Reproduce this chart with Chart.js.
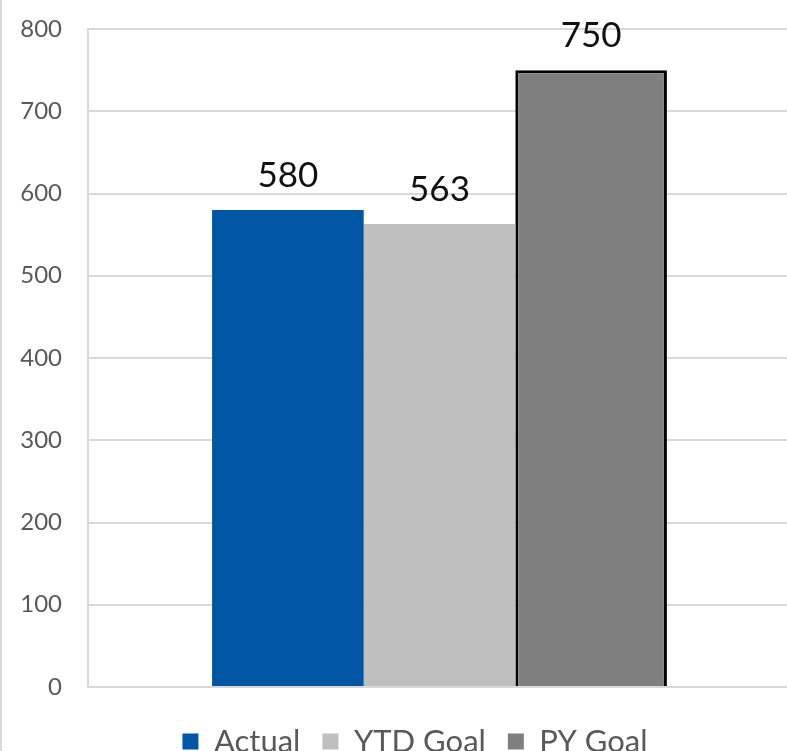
<!DOCTYPE html>
<html>
<head>
<meta charset="utf-8">
<script src="https://cdn.jsdelivr.net/npm/chart.js@4.4.1/dist/chart.umd.min.js"></script>
<style>
  html, body { margin: 0; padding: 0; background: #fff; overflow: hidden; }
  #wrap { position: relative; width: 800px; height: 751px; overflow: hidden; border-left: 2px solid #d9d9d9; box-sizing: border-box; }
</style>
</head>
<body>
<div id="wrap"><canvas id="goals" width="798" height="767"></canvas></div>
<script>
let seriesNames = ["Actual", "YTD Goal", "PY Goal"]
let seriesValues = [580, 563, 750]
let seriesColors = ["#0055a5", "#bfbfbf", "#7f7f7f"]
let yTicks = [0, 100, 200, 300, 400, 500, 600, 700, 800]

let fontFamily = "'Lato', 'DejaVu Sans', sans-serif"

// value labels above the bars, plus the y tick labels (drawn here so they
// can sit left of the axis box without being clipped)
const textMarks = {
  id: 'textMarks',
  afterDatasetsDraw(chart) {
    const ctx = chart.ctx
    ctx.save()
    ctx.font = '35px ' + fontFamily
    ctx.fillStyle = '#111'
    ctx.textAlign = 'center'
    ctx.textBaseline = 'alphabetic'
    chart.data.datasets.forEach((ds, i) => {
      const bar = chart.getDatasetMeta(i).data[0]
      ctx.fillText(ds.data[0], bar.x, bar.y - 23)
    })

    const y = chart.scales.y
    ctx.font = '24px ' + fontFamily
    ctx.fillStyle = '#595959'
    ctx.textAlign = 'right'
    ctx.textBaseline = 'middle'
    y.ticks.forEach(t => {
      ctx.fillText(t.value, y.right - 26, y.getPixelForValue(t.value))
    })
    ctx.restore()
  }
}

let datasets = []
for (let i = 0; i < seriesNames.length; i++) {
  datasets.push({
    label: seriesNames[i],
    data: [seriesValues[i]],
    backgroundColor: seriesColors[i],
    borderColor: i == 2 ? '#000000' : seriesColors[i],
    borderWidth: i == 2 ? 3 : 0,
    barPercentage: 1,
    categoryPercentage: 0.647
  })
}

new Chart(document.getElementById("goals"), {
  type: 'bar',
  data: {
    labels: [''],
    datasets: datasets
  },
  options: {
    responsive: false,
    animation: false,
    devicePixelRatio: 1,
    layout: {
      padding: { top: 29, right: 9, left: 37, bottom: 0 }
    },
    scales: {
      x: {
        afterFit(axis) {
          axis.height += 9
        },
        grid: { display: false },
        border: { display: true, color: '#d9d9d9', width: 2 },
        ticks: { display: false }
      },
      y: {
        min: 0,
        max: 800,
        afterBuildTicks(axis) {
          axis.ticks = yTicks.map(v => ({ value: v }))
        },
        afterFit(axis) {
          axis.width = 49
        },
        grid: { color: '#d9d9d9', lineWidth: 2, drawTicks: false },
        border: { display: true, color: '#d9d9d9', width: 2 },
        ticks: { display: false }
      }
    },
    plugins: {
      tooltip: { enabled: false },
      legend: {
        position: 'bottom',
        labels: {
          boxWidth: 16,
          boxHeight: 16,
          padding: 22,
          color: '#595959',
          font: { family: fontFamily, size: 31 },
          generateLabels(chart) {
            const items = Chart.defaults.plugins.legend.labels.generateLabels(chart)
            items.forEach(item => {
              item.lineWidth = 0
              item.strokeStyle = item.fillStyle
            })
            return items
          }
        }
      }
    }
  },
  plugins: [textMarks]
});
</script>
</body>
</html>
